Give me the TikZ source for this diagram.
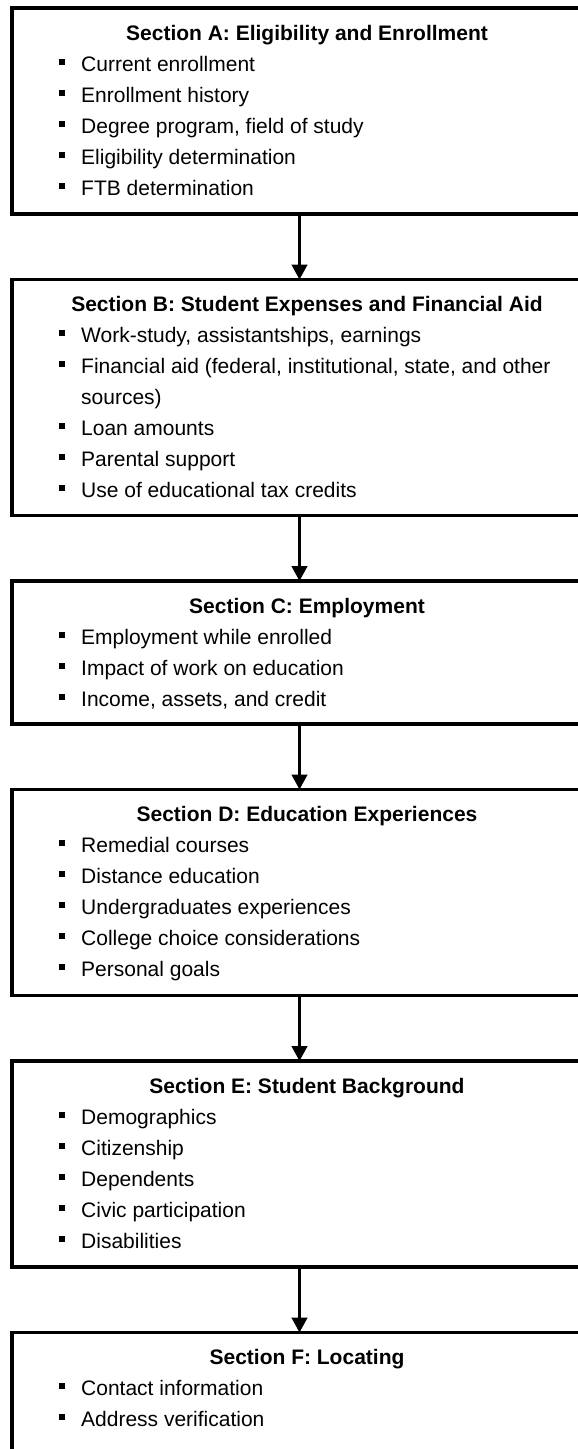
\documentclass[tikz,border=0pt]{standalone}
\usepackage{fontspec}
\setmainfont{Liberation Sans}
\usetikzlibrary{positioning,arrows.meta}
\begin{document}
\begin{tikzpicture}[x=1pt,y=1pt]
	\tikzset{
	  secbox/.style={draw,rectangle,line width=3.5pt,outer sep=0pt,inner sep=0pt,
		anchor=north west,minimum width=700pt,minimum height=#1},
	  sectitle/.style={anchor=base,inner sep=0pt,font=\fontsize{21}{25}\selectfont\bfseries},
	  secitem/.style={anchor=base west,inner sep=0pt,font=\fontsize{21}{25}\selectfont},
	  flow/.style={line width=2.7pt,-{Triangle[width=15.6pt,length=15pt]}},
	}
	\tikzset{
	  pics/bullet/.style={code={
		\fill (-3pt,-3pt) rectangle (3pt,3pt);
		}}
	}

	\clip (0,0) rectangle (578,-1449);

	%BOXES
	\node[secbox=206pt] (secA) at (12,-8) {};
	\node[secbox=236pt,below right=65.5pt and 0pt of secA.south west] (secB) {};
	\node[secbox=143pt,below right=65.5pt and 0pt of secB.south west] (secC) {};
	\node[secbox=206pt,below right=65.5pt and 0pt of secC.south west] (secD) {};
	\node[secbox=206pt,below right=65.5pt and 0pt of secD.south west] (secE) {};
	\node[secbox=180pt,below right=65.5pt and 0pt of secE.south west] (secF) {};

	%TITLES
	\node[sectitle] (titA) at ([xshift=295pt,yshift=-32pt]secA.north west) {Section A: Eligibility and Enrollment};
	\node[sectitle] (titB) at ([xshift=295pt,yshift=-32pt]secB.north west) {Section B: Student Expenses and Financial Aid};
	\node[sectitle] (titC) at ([xshift=295pt,yshift=-32pt]secC.north west) {Section C: Employment};
	\node[sectitle] (titD) at ([xshift=295pt,yshift=-32pt]secD.north west) {Section D: Education Experiences};
	\node[sectitle] (titE) at ([xshift=295pt,yshift=-32pt]secE.north west) {Section E: Student Background};
	\node[sectitle] (titF) at ([xshift=295pt,yshift=-32pt]secF.north west) {Section F: Locating};

	%ITEMS A
	\foreach \i/\txt in {1/Current enrollment,2/Enrollment history,3/{Degree program, field of study},
	  4/Eligibility determination,5/FTB determination}{
	  \node[secitem] (itA\i) at ([xshift=69pt,yshift=-32pt-31pt*\i]secA.north west) {\txt};
	  \pic at ([xshift=50pt,yshift=-22.5pt-31pt*\i]secA.north west) {bullet};
	}
	%ITEMS B
	\foreach \i/\txt in {1/{Work-study, assistantships, earnings},2/{Financial aid (federal, institutional, state, and other},
	  4/Loan amounts,5/Parental support,6/Use of educational tax credits}{
	  \node[secitem] (itB\i) at ([xshift=69pt,yshift=-32pt-31pt*\i]secB.north west) {\txt};
	  \pic at ([xshift=50pt,yshift=-22.5pt-31pt*\i]secB.north west) {bullet};
	}
	\node[secitem] (itB3) at ([xshift=69pt,yshift=-125pt]secB.north west) {sources)};
	%ITEMS C
	\foreach \i/\txt in {1/Employment while enrolled,2/Impact of work on education,3/{Income, assets, and credit}}{
	  \node[secitem] (itC\i) at ([xshift=69pt,yshift=-32pt-31pt*\i]secC.north west) {\txt};
	  \pic at ([xshift=50pt,yshift=-22.5pt-31pt*\i]secC.north west) {bullet};
	}
	%ITEMS D
	\foreach \i/\txt in {1/Remedial courses,2/Distance education,3/Undergraduates experiences,
	  4/College choice considerations,5/Personal goals}{
	  \node[secitem] (itD\i) at ([xshift=69pt,yshift=-32pt-31pt*\i]secD.north west) {\txt};
	  \pic at ([xshift=50pt,yshift=-22.5pt-31pt*\i]secD.north west) {bullet};
	}
	%ITEMS E
	\foreach \i/\txt in {1/Demographics,2/Citizenship,3/Dependents,4/Civic participation,5/Disabilities}{
	  \node[secitem] (itE\i) at ([xshift=69pt,yshift=-32pt-31pt*\i]secE.north west) {\txt};
	  \pic at ([xshift=50pt,yshift=-22.5pt-31pt*\i]secE.north west) {bullet};
	}
	%ITEMS F
	\foreach \i/\txt in {1/Contact information,2/Address verification}{
	  \node[secitem] (itF\i) at ([xshift=69pt,yshift=-32pt-31pt*\i]secF.north west) {\txt};
	  \pic at ([xshift=50pt,yshift=-22.5pt-31pt*\i]secF.north west) {bullet};
	}

	%ARROWS
	\draw[flow] ([xshift=287.5pt]secA.south west) -- ([xshift=287.5pt]secB.north west);
	\draw[flow] ([xshift=287.5pt]secB.south west) -- ([xshift=287.5pt]secC.north west);
	\draw[flow] ([xshift=287.5pt]secC.south west) -- ([xshift=287.5pt]secD.north west);
	\draw[flow] ([xshift=287.5pt]secD.south west) -- ([xshift=287.5pt]secE.north west);
	\draw[flow] ([xshift=287.5pt]secE.south west) -- ([xshift=287.5pt]secF.north west);
\end{tikzpicture}
\end{document}
